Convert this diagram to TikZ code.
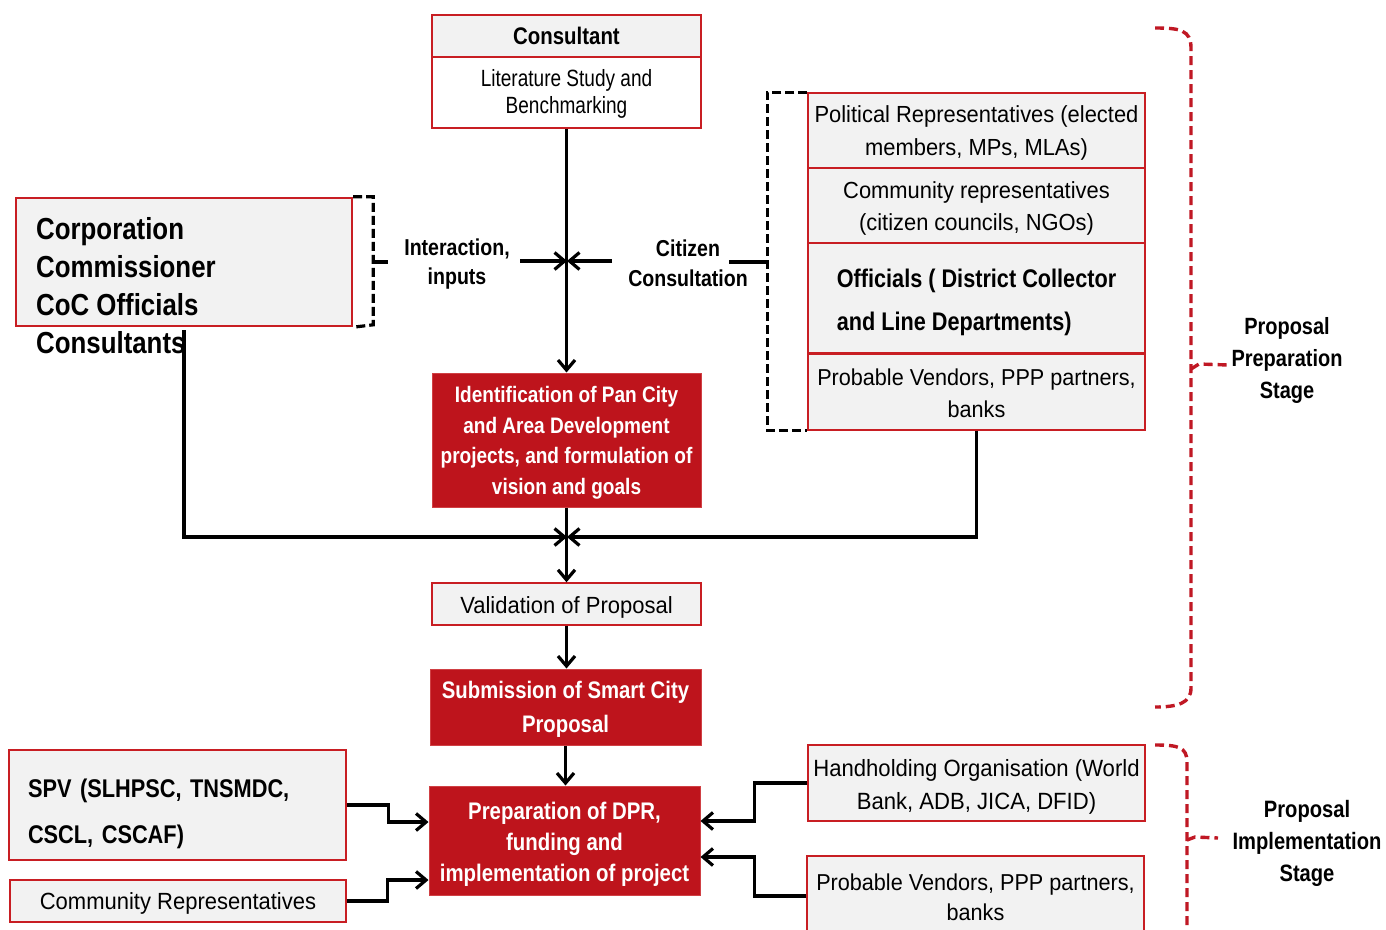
\documentclass[tikz,border=0pt]{standalone}
\usepackage{fontspec}
\setmainfont{Liberation Sans}
\newfontfamily\BFfam[FakeStretch=0.85]{Liberation Sans}
\newfontfamily\RWfam[FakeStretch=0.94]{Liberation Sans}
\newfontfamily\RNfam[FakeStretch=0.81]{Liberation Sans}
\usetikzlibrary{arrows.meta}
\definecolor{bred}{RGB}{200,30,35}
\definecolor{fillred}{RGB}{190,20,28}
\definecolor{lgray}{RGB}{242,242,242}
\definecolor{dred}{RGB}{192,24,36}
\newcommand\myfb[2]{\BFfam\bfseries\fontsize{#1}{#2}\selectfont}
\newcommand\myfw[2]{\RWfam\fontsize{#1}{#2}\selectfont}
\newcommand\myfn[2]{\RNfam\fontsize{#1}{#2}\selectfont}
\newcommand\myup[1]{\rule{0pt}{#1}}
\begin{document}
\begin{tikzpicture}[x=1pt,y=-1pt,
 box/.style={draw=bred,line width=1.4pt,fill=lgray,inner sep=0pt,align=center,text=black},
 redbox/.style={draw=bred!85!white,line width=1pt,fill=fillred,inner sep=0pt,align=center,text=white},
 conn/.style={line width=3.2pt},
 arr/.style={conn,-{Straight Barb[length=10pt,width=17pt]}},
 bdash/.style={line width=3.2pt,dash pattern=on 9pt off 4pt},
 rdash/.style={draw=dred,line width=3.4pt,dash pattern=on 9pt off 5pt},
 plain/.style={inner sep=0pt,align=center,text=black}]
\useasboundingbox (0,0) rectangle (1386,929);
\fill[white] (0,0) rectangle (1386,929);

% Consultant
\node[box,minimum width=269pt,minimum height=42pt,font={\myfb{24}{28}}] (cons) at (566.5,36) {Consultant};
\node[box,fill=white,minimum width=269pt,minimum height=71pt,font={\myfn{23.5}{27}}] (lit) at (566.5,92.5) {\myup{19pt}Literature Study and\\Benchmarking};

% Corporation box
\node[box,line width=2.4pt,minimum width=336pt,minimum height=128pt] (corp) at (184,262) {};
\node[plain,anchor=north west,align=left,font={\myfb{30.4}{38}}] (corptext) at (36,217) {Corporation\\Commissioner\\CoC Officials\\Consultants};
\draw[bdash] (corp.north east) -- ++(20,0) -- ++(0,128) -- (corp.south east);
\coordinate (lb) at (372,262);
\coordinate (lbt) at (388,262);
\draw[line width=3.2pt] (lb) -- (lbt);

% interaction / citizen
\node[plain,font={\myfb{23}{29}}] (inter) at (457,264) {Interaction,\\inputs};
\node[plain,font={\myfb{23}{30}}] (citz) at (688,263) {Citizen\\Consultation};
\coordinate (j1) at (567,261);
\coordinate (ia) at (520,261);
\coordinate (ca) at (612,261);
\coordinate (cc) at (729,262);
\coordinate (rb) at (768,262);

% right stack
\node[box,minimum width=337pt,minimum height=75pt,font={\myfw{23.3}{33}}] (pol) at (976.5,130.5) {\myup{21pt}Political Representatives (elected\\members, MPs, MLAs)};
\node[box,minimum width=337pt,minimum height=75pt,font={\myfw{23.3}{32}}] (com) at (976.5,205.5) {\myup{23pt}Community representatives\\(citizen councils, NGOs)};
\node[box,minimum width=337pt,minimum height=110pt,align=left,font={\myfb{25.5}{43}}] (off) at (976.5,298) {\myup{27pt}Officials ( District Collector\\and Line Departments)};
\node[box,minimum width=337pt,minimum height=77pt,font={\myfw{23}{32}}] (vend) at (976.5,391.5) {\myup{20pt}Probable Vendors, PPP partners,\\banks};
\draw[draw=bred,line width=3pt] (off.south west) -- (off.south east);
\draw[bdash] (pol.north west) -- ++(-40,0) |- (vend.south west);

% central column
\node[redbox,minimum width=269pt,minimum height=134pt,font={\myfb{22.4}{30.5}}] (ident) at (566.5,440) {\myup{22pt}Identification of Pan City\\and Area Development\\projects, and formulation of\\vision and goals};
\node[box,minimum width=269pt,minimum height=42pt,font={\myfw{23.4}{28}}] (valid) at (566.5,604) {\myup{23pt}Validation of Proposal};
\node[redbox,minimum width=271pt,minimum height=76pt,font={\myfb{23.9}{34}}] (submit) at (565.5,707) {\myup{21pt}Submission of Smart City\\Proposal};
\node[redbox,minimum width=271pt,minimum height=109pt,font={\myfb{24}{31}}] (prep) at (564.5,840.5) {\myup{25.5pt}Preparation of DPR,\\funding and\\implementation of project};

% bottom side boxes
\node[box,line width=2.4pt,minimum width=337pt,minimum height=110pt,text width=299pt,align=left,font={\myfb{25.6}{46}}] (spv) at (177.5,805) {\myup{37pt}SPV (SLHPSC, TNSMDC,\\CSCL, CSCAF)};
\node[box,minimum width=336pt,minimum height=42pt,font={\myfw{23.4}{28}}] (commrep) at (178,901) {\myup{21pt}Community Representatives};
\node[box,minimum width=337pt,minimum height=76pt,font={\myfw{23.5}{33}}] (hand) at (976.5,783) {\myup{25pt}Handholding Organisation (World\\Bank, ADB, JICA, DFID)};
\node[box,minimum width=337pt,minimum height=80pt,font={\myfw{23}{30}}] (vend2) at (975.5,896) {\myup{20pt}Probable Vendors, PPP partners,\\banks};

% stage labels
\node[plain,font={\myfb{23.5}{32}}] (prepstage) at (1287,360) {Proposal\\Preparation\\Stage};
\node[plain,font={\myfb{23.7}{32}}] (implstage) at (1307,843) {Proposal\\Implementation\\Stage};

% connectors
\coordinate (j2) at (567,537);
\coordinate (cl) at (184,330);
\draw[arr] (lit.south) -- (ident.north);
\draw[arr] (ia) -- (j1);
\draw[arr] (ca) -- (j1);
\draw[conn] (cc) -- (rb);
\draw[arr] (cl) |- (j2);
\draw[arr] (vend.south) |- (j2);
\draw[arr] (ident.south) -- (valid.north);
\draw[arr] (valid.south) -- (valid.south |- submit.north);
\draw[arr] (submit.south) -- (submit.south |- prep.north);
\draw[arr] (spv.east) -- ++(41,0) |- ([yshift=18.5pt]prep.west);
\draw[arr] (commrep.east) -- ++(41,0) |- ([yshift=-39.5pt]prep.west);
\draw[arr] (hand.west) -- ++(-53,0) |- ([yshift=19.5pt]prep.east);
\draw[arr] (vend2.west) -- ++(-52,0) |- ([yshift=-16.5pt]prep.east);

% red stage brackets
\coordinate (t1) at (1191,369);
\coordinate (t1b) at (1199,364);
\coordinate (t1c) at (1228,365);
\draw[rdash] (1155,28) .. controls (1180,28) and (1191,30) .. (1191,48) -- (1191,688) .. controls (1191,703) and (1178,707) .. (1155,707);
\draw[rdash] (t1) -- (t1b) -- (t1c);
\coordinate (t2) at (1187,840);
\coordinate (t2b) at (1195,837);
\coordinate (t2c) at (1218,838);
\draw[rdash] (1155,745) .. controls (1178,745) and (1187,747) .. (1187,762) -- (1187,945);
\draw[rdash] (t2) -- (t2b) -- (t2c);
\end{tikzpicture}
\end{document}
